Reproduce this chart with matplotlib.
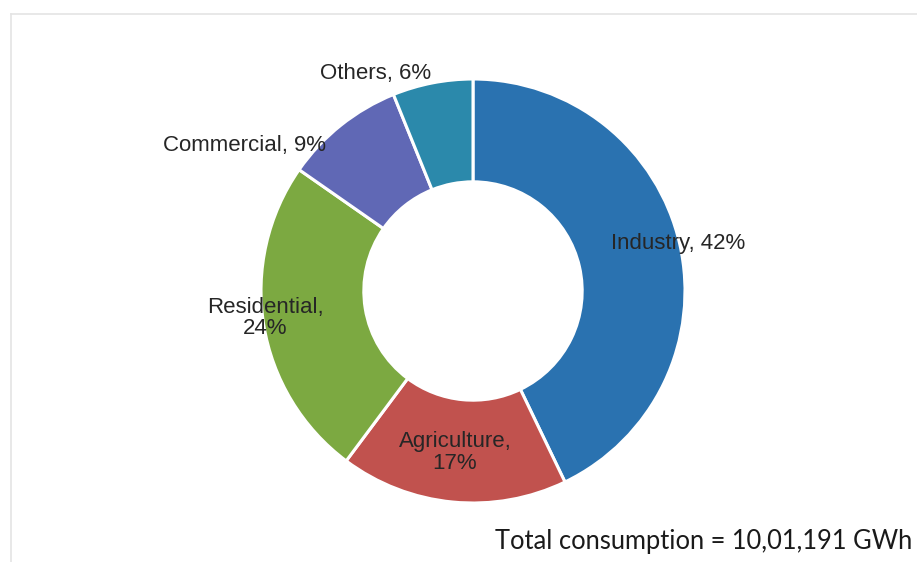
import matplotlib.pyplot as plt
from matplotlib.lines import Line2D

sectors = ['Industry', 'Agriculture', 'Residential', 'Commercial', 'Others']
shares = [42, 17, 24, 9, 6]
labels = ['Industry, 42%', 'Agriculture,\n17%', 'Residential,\n24%',
          'Commercial, 9%', 'Others, 6%']
total_text = 'Total consumption = 10,01,191 GWh'

colors = ['#2a72b0', '#c1524e', '#7ca941', '#6068b5', '#2b89ab']
# label anchors, in units of the outer radius
label_xy = [(0.967, 0.226), (-0.085, -0.76), (-0.98, -0.127),
            (-1.08, 0.685), (-0.458, 1.024)]

W, H = 917, 562
fig = plt.figure(figsize=(W / 100, H / 100), dpi=100)

# faint border left over from the slide frame
fig.add_artist(Line2D([11 / W, 1], [1 - 14 / H, 1 - 14 / H], color='#e4e4e4', lw=1.2))
fig.add_artist(Line2D([11 / W, 11 / W], [0, 1 - 14 / H], color='#e4e4e4', lw=1.2))

cx, cy, r = 473, 291, 212
ax = fig.add_axes([(cx - r) / W, (H - cy - r) / H, 2 * r / W, 2 * r / H])
ax.pie(shares, colors=colors, startangle=90, counterclock=False, radius=1,
       wedgeprops=dict(width=0.485, edgecolor='white', linewidth=2.2))
ax.set_xlim(-1, 1)
ax.set_ylim(-1, 1)
ax.set_aspect('equal')
ax.axis('off')

for text, (x, y) in zip(labels, label_xy):
    ax.text(x, y, text, ha='center', va='center', fontsize=16,
            family='Liberation Sans', color='#262626', linespacing=1.05,
            clip_on=False)

fig.text(912 / W, 1 - 541 / H, total_text, ha='right', va='center',
         fontsize=18.4, family='Lato', color='#1a1a1a')

fig.savefig('out.png', dpi=100)
